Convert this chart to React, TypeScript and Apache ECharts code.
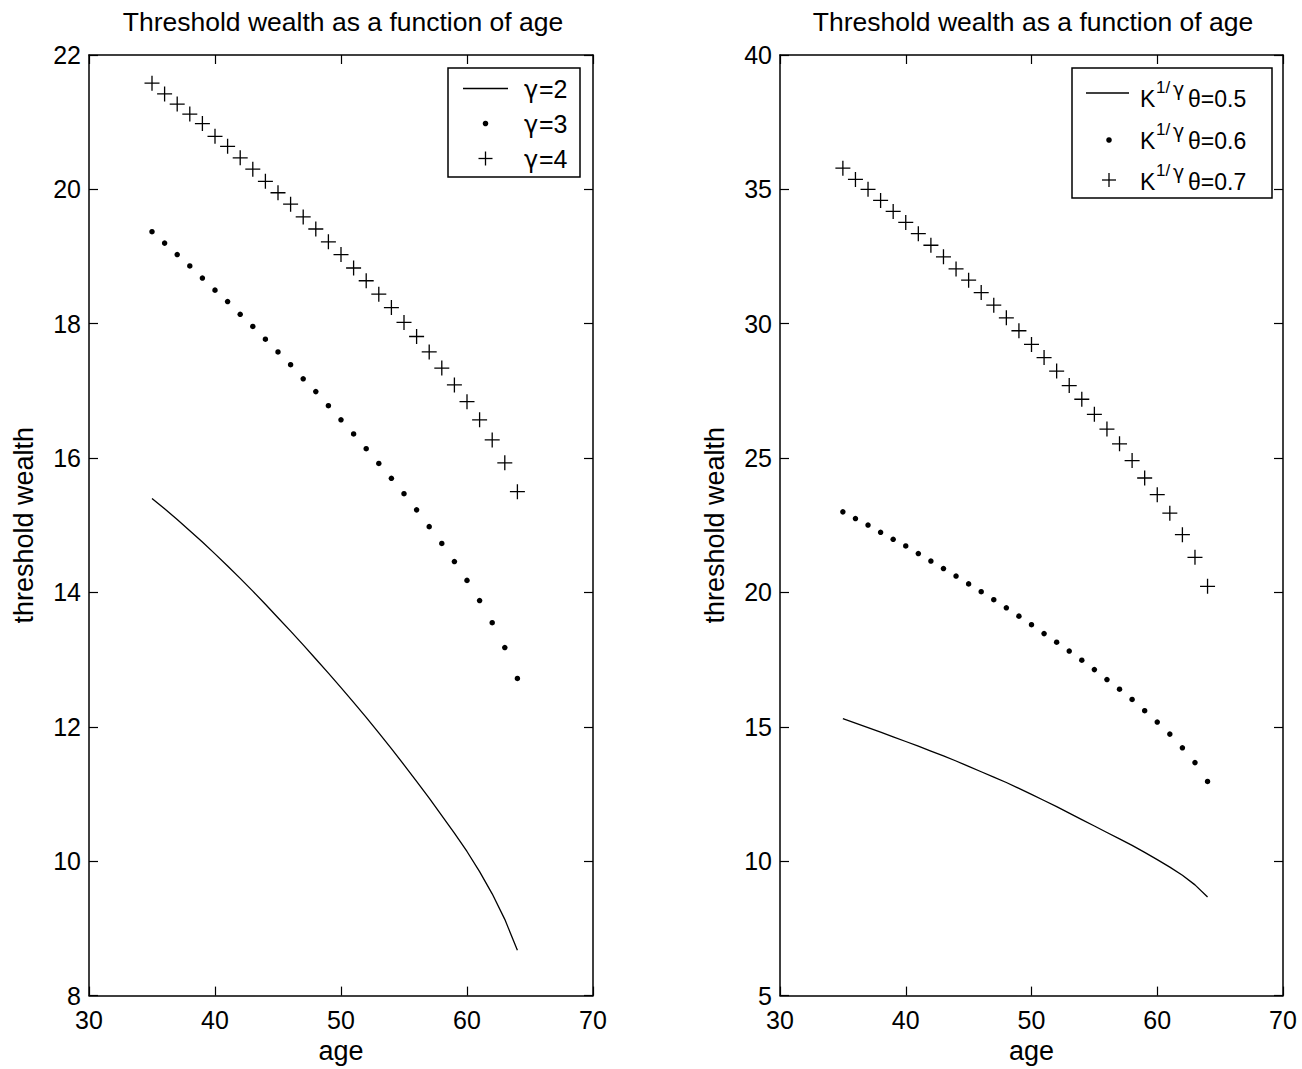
import React, { useEffect, useRef } from "react";
import * as echarts from "echarts";

const FONT = '"Liberation Sans", Arial, Helvetica, sans-serif';
const GREEK = '"DejaVu Sans", "Liberation Sans", sans-serif';

// ages 35..64
const ages = [35, 36, 37, 38, 39, 40, 41, 42, 43, 44, 45, 46, 47, 48, 49, 50, 51, 52, 53, 54, 55, 56, 57, 58, 59, 60, 61, 62, 63, 64];

// Left panel: threshold wealth for different gamma
const leftGamma2 = [15.40, 15.245, 15.085, 14.92, 14.75, 14.575, 14.395, 14.21, 14.02, 13.825, 13.625, 13.425, 13.22, 13.01, 12.80, 12.585, 12.365, 12.14, 11.91, 11.675, 11.435, 11.19, 10.94, 10.68, 10.42, 10.145, 9.845, 9.515, 9.135, 8.675];
const leftGamma3 = [19.37, 19.20, 19.03, 18.86, 18.68, 18.50, 18.33, 18.14, 17.96, 17.77, 17.58, 17.39, 17.18, 16.99, 16.78, 16.57, 16.36, 16.14, 15.92, 15.70, 15.47, 15.23, 14.98, 14.73, 14.46, 14.18, 13.88, 13.55, 13.18, 12.72];
const leftGamma4 = [21.58, 21.42, 21.27, 21.12, 20.98, 20.79, 20.64, 20.47, 20.30, 20.12, 19.95, 19.78, 19.59, 19.41, 19.22, 19.03, 18.83, 18.64, 18.44, 18.24, 18.02, 17.81, 17.58, 17.34, 17.09, 16.84, 16.57, 16.27, 15.93, 15.50];

// Right panel: threshold wealth for different K^(1/gamma) theta
const rightTheta05 = [15.31, 15.14, 14.97, 14.80, 14.63, 14.455, 14.28, 14.10, 13.92, 13.73, 13.53, 13.33, 13.13, 12.93, 12.71, 12.49, 12.26, 12.03, 11.79, 11.55, 11.31, 11.07, 10.83, 10.59, 10.33, 10.06, 9.78, 9.48, 9.12, 8.67];
const rightTheta06 = [23.00, 22.75, 22.51, 22.24, 21.98, 21.73, 21.45, 21.17, 20.89, 20.61, 20.32, 20.03, 19.73, 19.43, 19.12, 18.80, 18.47, 18.15, 17.82, 17.48, 17.13, 16.76, 16.40, 16.02, 15.60, 15.18, 14.73, 14.22, 13.67, 12.97];
const rightTheta07 = [35.79, 35.37, 35.00, 34.59, 34.18, 33.77, 33.35, 32.92, 32.49, 32.04, 31.62, 31.16, 30.69, 30.22, 29.74, 29.23, 28.74, 28.24, 27.70, 27.19, 26.63, 26.08, 25.53, 24.91, 24.26, 23.64, 22.95, 22.15, 21.31, 20.23];

const titles = ["Threshold wealth as a function of age", "Threshold wealth as a function of age"];
const xName = "age";
const yName = "threshold wealth";
const leftLegendValues = ["=2", "=3", "=4"];
const rightLegendValues = ["θ=0.5", "θ=0.6", "θ=0.7"];

const xRange = { min: 30, max: 70, interval: 10 };
const leftY = { min: 8, max: 22, interval: 2 };
const rightY = { min: 5, max: 40, interval: 5 };

const PLUS = "path://M0,7L14,7M7,0L7,14";

function pairs(ys: number[]) {
  return ages.map((a, i) => [a, ys[i]]);
}

function buildOption() {
  const axisLine = { show: true, onZero: false, lineStyle: { color: "#000", width: 1.5 } };
  const axisTick = { show: true, inside: true, length: 9, lineStyle: { color: "#000", width: 1.2 } };
  const label = { color: "#000", fontSize: 25, fontFamily: FONT, lineHeight: 20 };
  const nameStyle = { color: "#000", fontSize: 27, fontFamily: FONT };

  const mkX = (grid: number) => [
    {
      type: "value", gridIndex: grid, position: "bottom", ...xRange,
      axisLine, axisTick, splitLine: { show: false },
      axisLabel: { ...label, margin: 14 },
      name: xName, nameLocation: "middle", nameGap: 39, nameTextStyle: nameStyle,
    },
    {
      type: "value", gridIndex: grid, position: "top", ...xRange,
      axisLine, axisTick, splitLine: { show: false }, axisLabel: { show: false },
    },
  ];
  const mkY = (grid: number, r: any) => [
    {
      type: "value", gridIndex: grid, position: "left", ...r,
      axisLine, axisTick, splitLine: { show: false },
      axisLabel: { ...label, margin: 8 },
      name: yName, nameLocation: "middle", nameGap: 52, nameTextStyle: nameStyle,
    },
    {
      type: "value", gridIndex: grid, position: "right", ...r,
      axisLine, axisTick, splitLine: { show: false }, axisLabel: { show: false },
    },
  ];

  const lineS = (xi: number, yi: number, ys: number[]) => ({
    type: "line", xAxisIndex: xi, yAxisIndex: yi, data: pairs(ys),
    showSymbol: false, symbol: "none", lineStyle: { color: "#000", width: 1.3, opacity: 1 }, silent: true,
  });
  const dotS = (xi: number, yi: number, ys: number[]) => ({
    type: "scatter", xAxisIndex: xi, yAxisIndex: yi, data: pairs(ys),
    symbol: "circle", symbolSize: 5.5, itemStyle: { color: "#000", opacity: 1 }, silent: true,
  });
  const plusS = (xi: number, yi: number, ys: number[]) => ({
    type: "scatter", xAxisIndex: xi, yAxisIndex: yi, data: pairs(ys),
    symbol: PLUS, symbolSize: 15, itemStyle: { color: "none", borderColor: "#000", borderWidth: 1.3, opacity: 1 }, silent: true,
  });

  const Z = 100;
  const txt = (text: string, x: number, y: number, size: number, family: string = FONT) => ({
    type: "text", z: Z + 1,
    style: { text, x, y, fill: "#000", fontSize: size, fontFamily: family, verticalAlign: "middle", align: "left" },
  });
  const hline = (x1: number, x2: number, y: number) => ({
    type: "line", z: Z + 1, shape: { x1, y1: y, x2, y2: y }, style: { stroke: "#000", lineWidth: 1.3 },
  });
  const dot = (cx: number, cy: number) => ({
    type: "circle", z: Z + 1, shape: { cx, cy, r: 2.8 }, style: { fill: "#000" },
  });
  const plus = (cx: number, cy: number) => ({
    type: "group", z: Z + 1,
    children: [
      { type: "line", z: Z + 1, shape: { x1: cx - 7, y1: cy, x2: cx + 7, y2: cy }, style: { stroke: "#000", lineWidth: 1.3 } },
      { type: "line", z: Z + 1, shape: { x1: cx, y1: cy - 7, x2: cx, y2: cy + 7 }, style: { stroke: "#000", lineWidth: 1.3 } },
    ],
  });

  const leftRows = [89, 124, 159];
  const rightRows = [99, 141, 182];

  const graphics: any[] = [
    { type: "rect", z: Z, shape: { x: 448, y: 68, width: 132, height: 109 }, style: { fill: "#fff", stroke: "#000", lineWidth: 1.5 } },
    hline(463, 508, 88.5),
    dot(485.5, 123.5),
    plus(485.5, 158.5),
    ...leftLegendValues.flatMap((t, i) => [
      txt("γ", 524, leftRows[i] + 1, 24, GREEK),
      txt(t, 539, leftRows[i], 25),
    ]),
    { type: "rect", z: Z, shape: { x: 1072, y: 68, width: 200, height: 130 }, style: { fill: "#fff", stroke: "#000", lineWidth: 1.5 } },
    hline(1086, 1129, 93),
    dot(1109, 140),
    plus(1109, 180),
    ...rightLegendValues.flatMap((t, i) => [
      txt("K", 1140, rightRows[i], 23),
      txt("1/", 1156, rightRows[i] - 11.5, 17),
      txt("γ", 1173, rightRows[i] - 10, 19, GREEK),
      txt(t, 1188, rightRows[i], 23),
    ]),
  ];

  const titleStyle = { color: "#000", fontSize: 26.5, fontWeight: "normal", fontFamily: FONT };

  return {
    animation: false,
    backgroundColor: "#fff",
    textStyle: { fontFamily: FONT, color: "#000" },
    title: [
      { text: titles[0], left: 343, top: 8, textAlign: "center", padding: 0, textStyle: titleStyle },
      { text: titles[1], left: 1033, top: 8, textAlign: "center", padding: 0, textStyle: titleStyle },
    ],
    grid: [
      { left: 89, top: 55, width: 504, height: 943, containLabel: false },
      { left: 780, top: 55, width: 503, height: 943, containLabel: false },
    ],
    xAxis: [...mkX(0), ...mkX(1)],
    yAxis: [...mkY(0, leftY), ...mkY(1, rightY)],
    series: [
      lineS(0, 0, leftGamma2),
      dotS(0, 0, leftGamma3),
      plusS(0, 0, leftGamma4),
      lineS(2, 2, rightTheta05),
      dotS(2, 2, rightTheta06),
      plusS(2, 2, rightTheta07),
    ],
    graphic: { elements: graphics },
  };
}

export default function App() {
  const ref = useRef<HTMLDivElement>(null);
  useEffect(() => {
    if (!ref.current) return;
    const chart = echarts.init(ref.current, null, { renderer: "svg" });
    chart.setOption(buildOption() as any);
    return () => chart.dispose();
  }, []);
  return (
    <div
      ref={ref}
      style={{ position: "absolute", left: 0, top: 0, width: 1302, height: 1069, background: "#fff" }}
    />
  );
}
